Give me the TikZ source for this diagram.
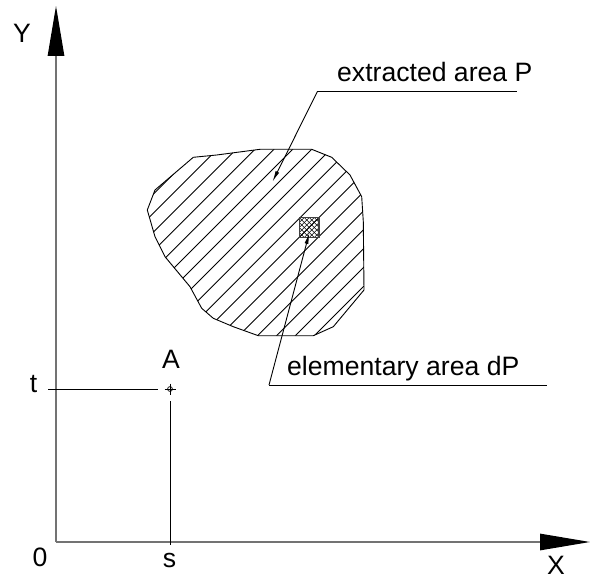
\documentclass[tikz,border=0pt]{standalone}
\usepackage{fontspec}
\setmainfont{Liberation Sans}
\usetikzlibrary{arrows.meta}
\begin{document}
\begin{tikzpicture}[x=1pt,y=-1pt,
  axis/.style={draw=black!55, line width=1.2pt},
  fine/.style={draw=black, line width=0.9pt},
  hatchline/.style={draw=black, line width=0.9pt},
  crossline/.style={draw=black, line width=0.6pt},
  lbl/.style={inner sep=0pt, font=\fontsize{26.6}{31}\selectfont},
  leader/.style={fine, -{Latex[length=11pt,width=4pt]}},
  axtip/.style={-{Triangle[length=50pt,width=16.5pt,color=black]}}
]
\useasboundingbox (0,0) rectangle (590,578);

% axes
\coordinate (O) at (56,542);
\coordinate (Ytip) at (56,6);
\coordinate (Xtip) at (590,542);
\draw[axis, axtip] (O) -- (Ytip);
\draw[axis, axtip] (O) -- (Xtip);

% labels
\node[lbl] (Ylab) at (22,33) {Y};
\node[lbl] (Xlab) at (556,565) {X};
\node[lbl] (zero) at (40,557) {0};
\node[lbl] (slab) at (169.5,560) {s};
\node[lbl] (tlab) at (33.5,384) {t};
\node[lbl] (Alab) at (171,359) {A};

% point A
\coordinate (A) at (170,389);
\draw[fine, line width=0.7pt] (A) circle (2.4);
\draw[fine, line width=0.7pt] (164.5,389) -- (175.5,389) (170,383.5) -- (170,394.5);
\coordinate (t1) at (48,389);
\coordinate (t2) at (158,389);
\draw[fine] (t1) -- (t2);
\coordinate (s1) at (170,401);
\coordinate (s2) at (170,545);
\draw[fine] (s1) -- (s2);

% extracted area
\def\blob{(193.3,157.3) -- (216.7,155) -- (260,149.3) -- (311.7,149.3) -- (331.7,157.3) -- (350,175) -- (361.7,196.7) -- (363.3,221.7) -- (364,290) -- (333.3,326.7) -- (313.3,335.7) -- (258.3,335.7) -- (233.3,326.7) -- (213.3,318.3) -- (201.7,308.3) -- (190,286.7) -- (165,256.7) -- (155,236.7) -- (147.3,210) -- (155,190) -- cycle}
\begin{scope}
  \clip \blob;
  \foreach \k in {-8,...,12} {
    \draw[hatchline] ({461+18.9*\k-100},100) -- ({461+18.9*\k-400},400);
  }
\end{scope}
\draw[fine] \blob;

% elementary area
\begin{scope}
  \clip (299.2,217.7) rectangle (319.2,237.3);
  \foreach \i in {-5,...,5} {
    \draw[crossline] ({309.2+5*\i-15},{227.5+15}) -- ({309.2+5*\i+15},{227.5-15});
    \draw[crossline] ({309.2+5*\i-15},{227.5-15}) -- ({309.2+5*\i+15},{227.5+15});
  }
\end{scope}
\node[draw=black!75, line width=1.4pt, minimum size=19.6pt, inner sep=0pt] (dP) at (309.2,227.5) {};

% leader: extracted area P
\node[lbl, anchor=base west] (ext) at (337,81.7) {extracted area P};
\coordinate (e1) at (317.3,91.7);
\coordinate (e2) at (516.7,91.7);
\coordinate (etip) at (272.5,181.7);
\draw[fine] (e1) -- (e2);
\draw[leader] (e1) -- (etip);

% leader: elementary area dP
\node[lbl, anchor=base west] (elem) at (287,375) {elementary area dP};
\coordinate (d1) at (269,385);
\coordinate (d2) at (546.7,385);
\coordinate (dtip) at (309.3,233);
\draw[fine] (d1) -- (d2);
\draw[leader] (d1) -- (dtip);
\end{tikzpicture}
\end{document}
